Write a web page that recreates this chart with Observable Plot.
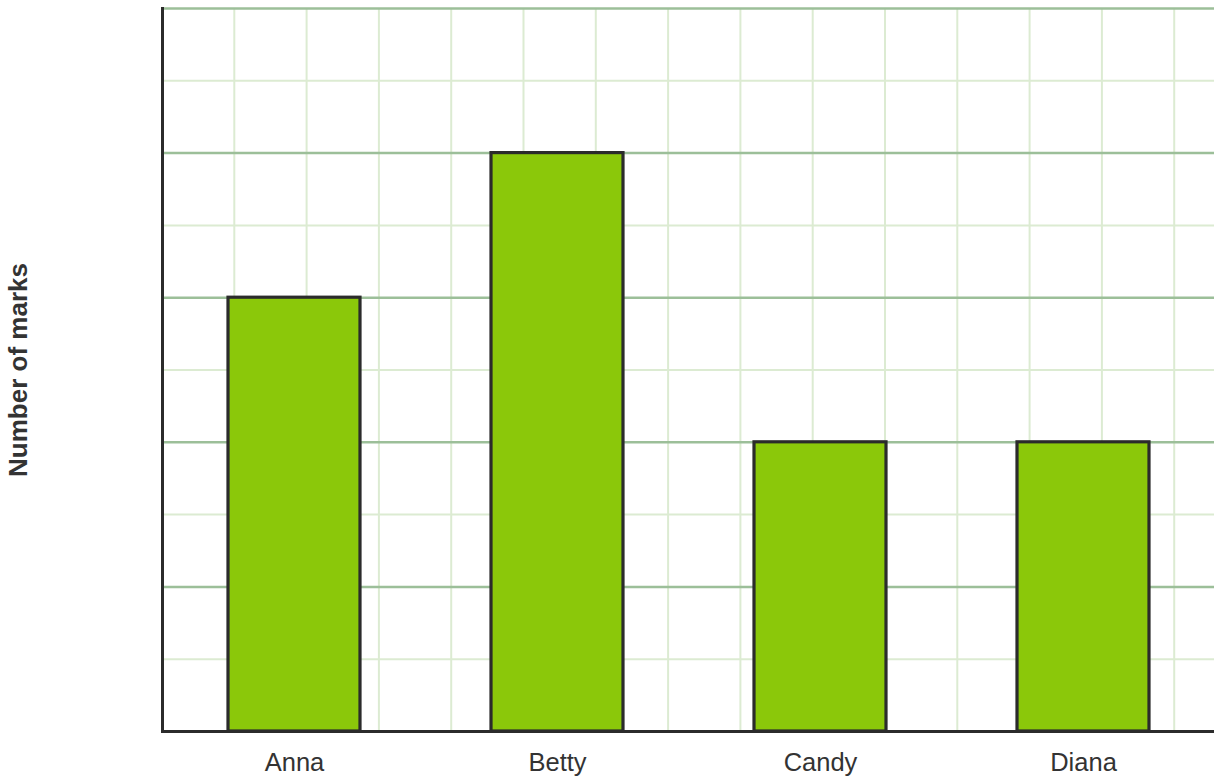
<!DOCTYPE html>
<html>
<head>
<meta charset="utf-8">
<script src="https://cdn.jsdelivr.net/npm/d3@7"></script>
<script src="https://cdn.jsdelivr.net/npm/@observablehq/plot@0.6"></script>
<style>
  html, body { margin: 0; padding: 0; background: #fff; }
  #chart svg { display: block; }
</style>
</head>
<body>
<div id="chart"></div>
<script>
const pupils = ["Anna", "Betty", "Candy", "Diana"];
const marks = [6, 8, 4, 4];
const majorTicks = [2, 4, 6, 8, 10];
const minorTicks = [1, 3, 5, 7, 9];

const data = pupils.map((name, i) => ({ name, marks: marks[i] }));

const chartContainer = document.getElementById("chart");

// vertical grid lines: square cells, one y unit wide, starting at the y axis
function verticalGrid(index, scales, values, dimensions) {
  const unit = scales.y(0) - scales.y(1);
  const { width, height, marginLeft, marginRight, marginTop, marginBottom } = dimensions;
  const g = d3.create("svg:g")
    .attr("stroke", "#dcebd2")
    .attr("stroke-width", 2);
  for (let x = marginLeft + unit; x < width - marginRight; x += unit) {
    g.append("line")
      .attr("x1", x).attr("x2", x)
      .attr("y1", marginTop).attr("y2", height - marginBottom);
  }
  return g.node();
}

const chart = Plot.plot({
  width: 1220,
  height: 783,
  marginLeft: 162,
  marginRight: 6,
  marginTop: 8,
  marginBottom: 52,
  style: { fontFamily: "'Liberation Sans', Arial, sans-serif", fontSize: "25px", color: "#333" },
  x: { type: "band", domain: pupils, paddingInner: 0.5, paddingOuter: 0.25 },
  y: { domain: [0, 10], axis: null },
  marks: [
    Plot.ruleY(minorTicks, { stroke: "#dcebd2", strokeWidth: 2 }),
    verticalGrid,
    Plot.ruleY(majorTicks, { stroke: "#9cbf99", strokeWidth: 2.5 }),
    Plot.barY(data, { x: "name", y: "marks", fill: "#8bc80a", stroke: "#2b2b2b", strokeWidth: 3.2 }),
    Plot.ruleY([0], { stroke: "#2b2b2b", strokeWidth: 3 }),
    Plot.frame({ anchor: "left", stroke: "#2b2b2b", strokeWidth: 3 }),
    Plot.axisX({ tickSize: 0, tickPadding: 21, label: null, fill: "#333", fontSize: 25.5 }),
    Plot.text(["Number of marks"], {
      frameAnchor: "left",
      textAnchor: "middle",
      rotate: -90,
      dx: -144,
      fontWeight: "bold",
      fontSize: 26,
      fill: "#333"
    })
  ]
});

chartContainer.appendChild(chart);
</script>
</body>
</html>
